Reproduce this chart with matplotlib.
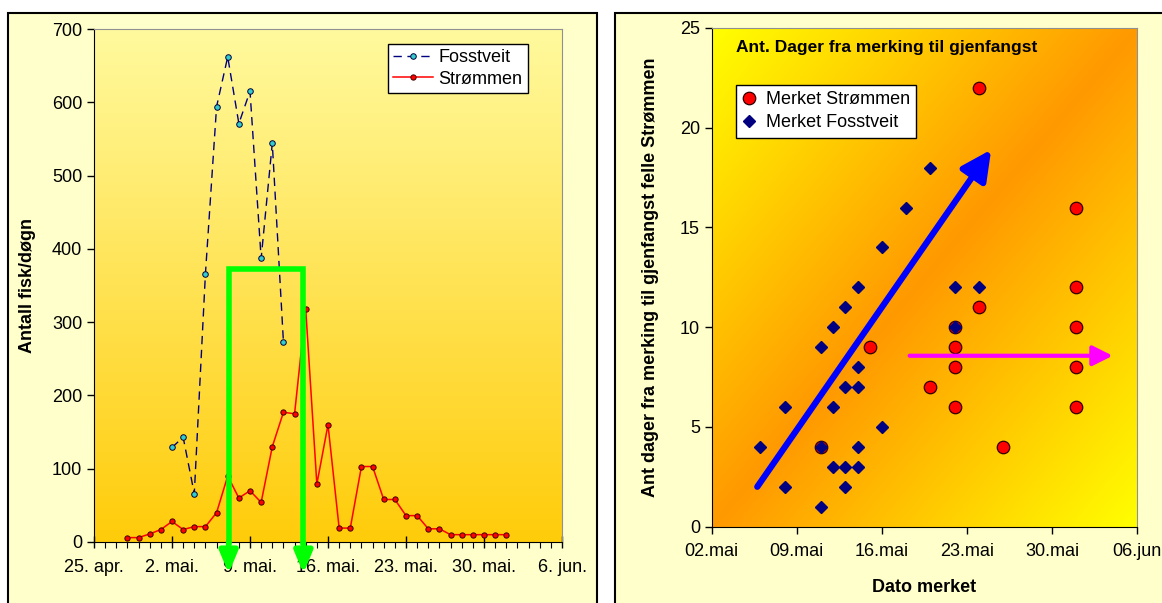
"""
Fangst per døgn i fellene og antall dager fra merking til gjenfangst.
Lager out.png med to paneler.
"""

import numpy as np
import pandas as pd
import matplotlib
matplotlib.use("Agg")
import matplotlib.pyplot as plt
from matplotlib.patches import Rectangle

plt.rcParams["font.family"] = ["Liberation Sans", "DejaVu Sans"]

# ---------------------------------------------------------------
# Data, venstre panel: antall fisk per døgn
# ---------------------------------------------------------------
strommen_start = "2004-04-28"
strommen_fisk = [6, 6, 11, 17, 28, 17, 21, 21, 40, 90, 60, 70, 54, 130, 177,
                 175, 318, 79, 160, 19, 19, 103, 103, 58, 58, 36, 36, 18, 18,
                 10, 10, 10, 10, 10, 10]

fosstveit_start = "2004-05-02"
fosstveit_fisk = [129, 143, 66, 366, 594, 662, 571, 615, 387, 544, 273]

venstre_ticks = ["2004-04-25", "2004-05-02", "2004-05-09", "2004-05-16",
                 "2004-05-23", "2004-05-30", "2004-06-06"]
venstre_labels = ["25. apr.", "2. mai.", "9. mai.", "16. mai.", "23. mai.",
                  "30. mai.", "6. jun."]

# grønn "vindu"-markering (fra dato, til dato, høyde)
vindu_fra = "2004-05-07 02:00"
vindu_til = "2004-05-13 19:00"
vindu_hoyde = 372

# ---------------------------------------------------------------
# Data, høyre panel: dager fra merking til gjenfangst
# ---------------------------------------------------------------
merket_strommen_dato = ["2004-05-11", "2004-05-15", "2004-05-20", "2004-05-22",
                        "2004-05-22", "2004-05-22", "2004-05-22", "2004-05-24",
                        "2004-05-24", "2004-05-26", "2004-06-01", "2004-06-01",
                        "2004-06-01", "2004-06-01", "2004-06-01"]
merket_strommen_dager = [4, 9, 7, 10, 9, 8, 6, 22, 11, 4, 16, 12, 10, 8, 6]

merket_fosstveit_dato = ["2004-05-06", "2004-05-08", "2004-05-08", "2004-05-11",
                         "2004-05-11", "2004-05-11", "2004-05-12", "2004-05-12",
                         "2004-05-12", "2004-05-13", "2004-05-13", "2004-05-13",
                         "2004-05-13", "2004-05-14", "2004-05-14", "2004-05-14",
                         "2004-05-14", "2004-05-14", "2004-05-16", "2004-05-16",
                         "2004-05-18", "2004-05-20", "2004-05-22", "2004-05-22",
                         "2004-05-24"]
merket_fosstveit_dager = [4, 6, 2, 9, 4, 1, 10, 6, 3, 11, 7, 3, 2, 12, 8, 7, 4,
                          3, 14, 5, 16, 18, 12, 10, 12]

hoyre_ticks = ["2004-05-02", "2004-05-09", "2004-05-16", "2004-05-23",
               "2004-05-30", "2004-06-06"]
hoyre_labels = ["02.mai", "09.mai", "16.mai", "23.mai", "30.mai", "06.jun"]

# piler i høyre panel (start, slutt)
blaa_pil = (("2004-05-05 18:00", 2.0), ("2004-05-25", 18.9))
rosa_pil = (("2004-05-18 07:00", 8.57), ("2004-06-04", 8.57))


def dato(s):
    return pd.Timestamp(s)


W, H = 1162, 603
fig = plt.figure(figsize=(W / 100, H / 100), dpi=100, facecolor="white")


def px_rect(x0, y0, x1, y1):
    """Pikselboks (y nedover) -> figurkoordinater [left, bottom, w, h]."""
    return [x0 / W, 1 - y1 / H, (x1 - x0) / W, (y1 - y0) / H]


# rammer rundt de to diagramområdene
for x0, x1 in [(8, 597), (615, 1175)]:
    r = Rectangle((x0 / W, -0.02), (x1 - x0) / W, (H - 13) / H + 0.02,
                  transform=fig.transFigure, facecolor="#FFFFCC",
                  edgecolor="black", linewidth=1.5, zorder=0)
    fig.patches.append(r)

# ---------------------------------------------------------------
# Venstre panel
# ---------------------------------------------------------------
pos_v = px_rect(94, 29, 562, 542)
bg = fig.add_axes(pos_v, zorder=1)
topp = np.array([255, 250, 158]) / 255
bunn = np.array([255, 204, 10]) / 255
t = np.linspace(0, 1, 256)[:, None]
grad = topp * (1 - t) + bunn * t
bg.imshow(grad[:, None, :].repeat(2, axis=1), extent=[0, 1, 0, 1],
          aspect="auto", origin="upper")
bg.axis("off")

ax = fig.add_axes(pos_v, zorder=2)
ax.set_facecolor("none")

x_str = pd.date_range(strommen_start, periods=len(strommen_fisk))
x_fos = pd.date_range(fosstveit_start, periods=len(fosstveit_fisk))

ax.plot(x_fos, fosstveit_fisk, color="#000080", lw=1.0,
        linestyle=(0, (6, 4)), marker="o", ms=4, mfc="#33CCCC", mec="#000040",
        mew=0.7, label="Fosstveit")
ax.plot(x_str, strommen_fisk, color="#FF0000", lw=1.1, marker="o", ms=3.8,
        mfc="#FF0000", mec="#400000", mew=0.7, label="Strømmen")

ax.set_xlim(dato(venstre_ticks[0]), dato(venstre_ticks[-1]))
ax.set_ylim(0, 700)
ax.set_yticks(range(0, 701, 100))
ax.set_xticks([dato(d) for d in venstre_ticks])
ax.set_xticklabels(venstre_labels)
ax.set_xticks(pd.date_range(venstre_ticks[0], venstre_ticks[-1]), minor=True)
ax.tick_params(axis="x", which="major", direction="inout", length=9,
               width=1, labelsize=13, pad=8)
ax.tick_params(axis="x", which="minor", direction="out", length=4, width=0.8)
ax.tick_params(axis="y", direction="out", length=5, width=1, labelsize=13)
ax.set_ylabel("Antall fisk/døgn", fontsize=13, fontweight="bold")
ax.yaxis.set_label_coords(-0.125, 0.5)
for s in ["top", "right"]:
    ax.spines[s].set_color("#909090")
for s in ["left", "bottom"]:
    ax.spines[s].set_color("black")

leg = ax.legend(loc="upper right", bbox_to_anchor=(0.927, 0.971),
                borderaxespad=0, fancybox=False, edgecolor="black",
                framealpha=1, fontsize=13, handlelength=2.2,
                labelspacing=0.25, borderpad=0.3, handletextpad=0.3)
leg.get_frame().set_linewidth(1.0)

# grønn markering av perioden
gronn = "#00FF00"
ax.plot([dato(vindu_fra), dato(vindu_fra), dato(vindu_til), dato(vindu_til)],
        [0, vindu_hoyde, vindu_hoyde, 0], color=gronn, lw=4,
        solid_joinstyle="miter", clip_on=False, zorder=5)
for d in [vindu_fra, vindu_til]:
    ax.annotate("", xy=(dato(d), -43), xytext=(dato(d), 0),
                arrowprops=dict(arrowstyle="-|>,head_length=0.65,head_width=0.27",
                                color=gronn, lw=4, shrinkA=0, shrinkB=0,
                                mutation_scale=20),
                annotation_clip=False, zorder=5)

# ---------------------------------------------------------------
# Høyre panel
# ---------------------------------------------------------------
pos_h = px_rect(711.7, 28, 1137, 526.7)
bg2 = fig.add_axes(pos_h, zorder=1)
oransje = np.array([255, 153, 0]) / 255
gul = np.array([255, 255, 0]) / 255
xx, yy = np.meshgrid(np.linspace(0, 1, 300), np.linspace(1, 0, 300))
tt = np.abs(xx - yy)[:, :, None]
bg2.imshow(oransje * (1 - tt) + gul * tt, extent=[0, 1, 0, 1],
           aspect="auto", origin="upper")
bg2.axis("off")

ax2 = fig.add_axes(pos_h, zorder=2)
ax2.set_facecolor("none")

ax2.plot([dato(d) for d in merket_strommen_dato], merket_strommen_dager,
         linestyle="none", marker="o", ms=9, mfc="#FF0000", mec="#300000",
         mew=0.9, label="Merket Strømmen", zorder=3)
ax2.plot([dato(d) for d in merket_fosstveit_dato], merket_fosstveit_dager,
         linestyle="none", marker="D", ms=6, mfc="#000080", mec="#000080",
         label="Merket Fosstveit", zorder=4)

ax2.set_xlim(dato(hoyre_ticks[0]), dato(hoyre_ticks[-1]))
ax2.set_ylim(0, 25)
ax2.set_yticks(range(0, 26, 5))
ax2.set_xticks([dato(d) for d in hoyre_ticks])
ax2.set_xticklabels(hoyre_labels)
ax2.tick_params(axis="both", direction="out", length=5, width=1,
                labelsize=13)
ax2.tick_params(axis="x", pad=7)
ax2.set_xlabel("Dato merket", fontsize=13, fontweight="bold")
ax2.xaxis.set_label_coords(0.5, -0.105)
ax2.set_ylabel("Ant dager fra merking til gjenfangst felle Strømmen",
               fontsize=13, fontweight="bold")
ax2.yaxis.set_label_coords(-0.125, 0.5)
for s in ["top", "right"]:
    ax2.spines[s].set_color("#909090")

ax2.text(0.057, 0.96, "Ant. Dager fra merking til gjenfangst",
         transform=ax2.transAxes, fontsize=12.5, fontweight="bold",
         ha="left", va="center")

leg2 = ax2.legend(loc="upper left", bbox_to_anchor=(0.057, 0.886),
                  borderaxespad=0, fancybox=False, edgecolor="black",
                  framealpha=1, fontsize=13, handlelength=0.8,
                  labelspacing=0.35, borderpad=0.35, handletextpad=0.5)
leg2.get_frame().set_linewidth(1.0)

for (start, slutt), farge, lw, hl, hw in [
        (blaa_pil, "#0000FF", 4.5, 0.9, 0.45),
        (rosa_pil, "#FF00FF", 3.0, 0.6, 0.3)]:
    ax2.annotate("", xy=(dato(slutt[0]), slutt[1]),
                 xytext=(dato(start[0]), start[1]),
                 arrowprops=dict(arrowstyle=f"-|>,head_length={hl},head_width={hw}",
                                 color=farge, lw=lw, shrinkA=0, shrinkB=0,
                                 mutation_scale=20),
                 zorder=6)

fig.savefig("out.png", dpi=100, facecolor="white")
